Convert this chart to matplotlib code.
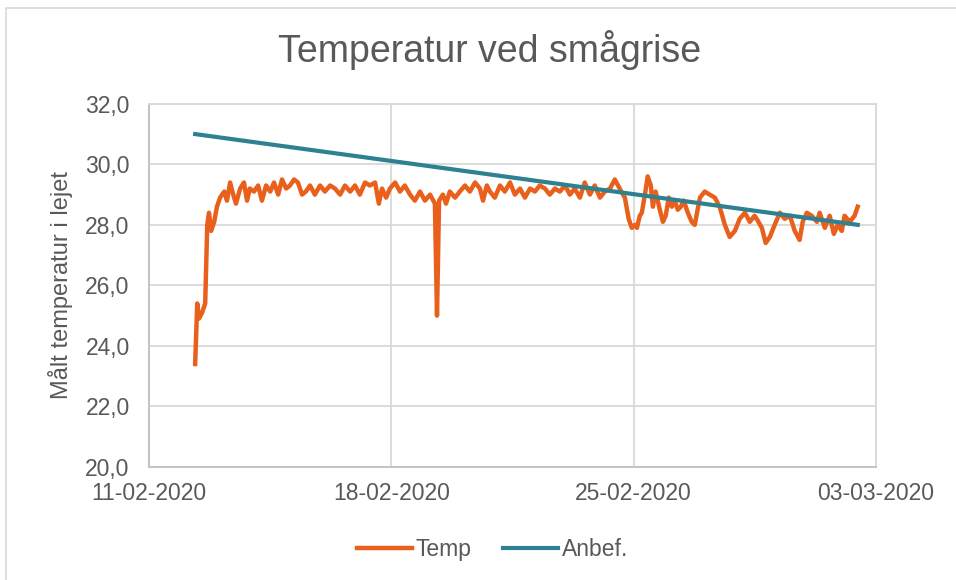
import matplotlib
matplotlib.use("Agg")
import matplotlib.pyplot as plt
import matplotlib.dates as mdates
import matplotlib.ticker as mticker
import pandas as pd

temp_days = [
    1.33, 1.39, 1.44, 1.53, 1.62, 1.68, 1.73, 1.79, 1.88, 1.96,
    2.05, 2.17, 2.25, 2.34, 2.43, 2.51, 2.63, 2.74, 2.83, 2.91,
    3.03, 3.15, 3.26, 3.38, 3.50, 3.61, 3.73, 3.84, 3.96, 4.07,
    4.19, 4.30, 4.42, 4.53, 4.65, 4.79, 4.94, 5.08, 5.23, 5.37,
    5.52, 5.66, 5.81, 5.95, 6.09, 6.24, 6.38, 6.53, 6.64, 6.73,
    6.85, 6.96, 7.11, 7.25, 7.39, 7.54, 7.68, 7.83, 7.97, 8.12,
    8.26, 8.32, 8.38, 8.49, 8.58, 8.69, 8.84, 8.98, 9.13, 9.27,
    9.42, 9.56, 9.65, 9.76, 9.85, 9.99, 10.14, 10.28, 10.43, 10.57,
    10.72, 10.86, 11.01, 11.15, 11.29, 11.44, 11.58, 11.73, 11.87, 12.02,
    12.16, 12.30, 12.45, 12.59, 12.74, 12.88, 13.03, 13.17, 13.32, 13.46,
    13.60, 13.75, 13.86, 13.95, 14.04, 14.10, 14.18, 14.24, 14.33, 14.41,
    14.50, 14.56, 14.64, 14.76, 14.85, 14.93, 15.02, 15.11, 15.19, 15.28,
    15.37, 15.45, 15.57, 15.68, 15.77, 15.92, 16.06, 16.20, 16.35, 16.49,
    16.64, 16.78, 16.93, 17.07, 17.22, 17.36, 17.50, 17.56, 17.71, 17.82,
    17.94, 18.08, 18.23, 18.37, 18.52, 18.66, 18.80, 18.89, 19.01, 19.15,
    19.30, 19.38, 19.53, 19.67, 19.79, 19.90, 20.02, 20.10, 20.25, 20.39,
    20.48,
]
temp_vals = [
    23.4, 25.4, 24.9, 25.1, 25.4, 28.0, 28.4, 27.8, 28.1, 28.6,
    28.9, 29.1, 28.8, 29.4, 29.0, 28.7, 29.2, 29.4, 28.8, 29.2,
    29.1, 29.3, 28.8, 29.3, 29.1, 29.4, 29.0, 29.5, 29.2, 29.3,
    29.5, 29.4, 29.0, 29.1, 29.3, 29.0, 29.3, 29.1, 29.3, 29.2,
    29.0, 29.3, 29.1, 29.3, 29.0, 29.4, 29.3, 29.4, 28.7, 29.2,
    28.9, 29.2, 29.4, 29.1, 29.3, 29.0, 28.8, 29.1, 28.8, 29.0,
    28.7, 25.0, 28.8, 29.0, 28.7, 29.1, 28.9, 29.1, 29.3, 29.1,
    29.4, 29.2, 28.8, 29.3, 29.1, 28.9, 29.3, 29.1, 29.4, 29.0,
    29.2, 28.9, 29.2, 29.1, 29.3, 29.2, 29.0, 29.2, 29.1, 29.3,
    29.0, 29.2, 28.9, 29.4, 29.0, 29.3, 28.9, 29.1, 29.2, 29.5,
    29.2, 28.9, 28.2, 27.9, 28.0, 27.9, 28.3, 28.4, 29.0, 29.6,
    29.3, 28.6, 29.1, 28.5, 28.1, 28.3, 28.9, 28.6, 28.8, 28.5,
    28.6, 28.8, 28.4, 28.1, 28.0, 28.9, 29.1, 29.0, 28.9, 28.6,
    28.0, 27.6, 27.8, 28.2, 28.4, 28.1, 28.3, 28.2, 27.9, 27.4,
    27.6, 28.0, 28.4, 28.2, 28.3, 27.8, 27.5, 28.1, 28.4, 28.3,
    28.1, 28.4, 27.9, 28.3, 27.7, 28.0, 27.8, 28.3, 28.1, 28.3,
    28.6,
]

# recommended temperature
anbef_days = [1.33, 20.48]
anbef_vals = [31.0, 28.0]

start = pd.Timestamp("2020-02-11")
temp_t = start + pd.to_timedelta(temp_days, unit="D")
anbef_t = start + pd.to_timedelta(anbef_days, unit="D")

plt.rcParams["font.family"] = ["Liberation Sans", "DejaVu Sans"]

txt = "#595959"
grid_c = "#d9d9d9"
axis_c = "#bfbfbf"

fig = plt.figure(figsize=(9.56, 5.8), dpi=100)
ax = fig.add_axes([0.156, 0.195, 0.76, 0.626])

ax.plot(temp_t, temp_vals, color="#e8601c", lw=3.2, label="Temp", solid_joinstyle="round")
ax.plot(anbef_t, anbef_vals, color="#2e8190", lw=3.0, label="Anbef.")

ax.set_ylim(20, 32)
ax.yaxis.set_major_locator(mticker.MultipleLocator(2))
ax.yaxis.set_major_formatter(mticker.FuncFormatter(lambda v, p: f"{v:.1f}".replace(".", ",")))
ax.set_xlim(pd.Timestamp("2020-02-11"), pd.Timestamp("2020-03-03"))
ax.xaxis.set_major_locator(mdates.DayLocator(bymonthday=[11, 18, 25, 3]))
ax.xaxis.set_major_formatter(mdates.DateFormatter("%d-%m-%Y"))

ax.grid(True, color=grid_c, lw=1.3)
ax.set_axisbelow(True)
for s in ax.spines.values():
    s.set_color(grid_c)
    s.set_linewidth(1.3)
ax.spines["left"].set_color(axis_c)
ax.spines["bottom"].set_color(axis_c)
ax.tick_params(length=0, labelsize=16.5, colors=txt)
ax.tick_params(axis="x", pad=11)
ax.tick_params(axis="y", pad=14)

ax.set_ylabel("Målt temperatur i lejet", fontsize=17, color=txt, labelpad=9)
fig.text(0.512, 0.913, "Temperatur ved smågrise", ha="center", va="center", fontsize=27, color=txt)

leg = fig.legend(loc="center", bbox_to_anchor=(0.515, 0.053), ncol=2, frameon=False,
                 fontsize=16.5, handlelength=2.4, columnspacing=1.4, handletextpad=0.15)
for t in leg.get_texts():
    t.set_color(txt)

fig.patches.append(plt.Rectangle((0.006, -0.02), 1.2, 1.006, transform=fig.transFigure,
                                 fill=False, edgecolor=grid_c, lw=1.2))

fig.savefig("out.png", dpi=100)
